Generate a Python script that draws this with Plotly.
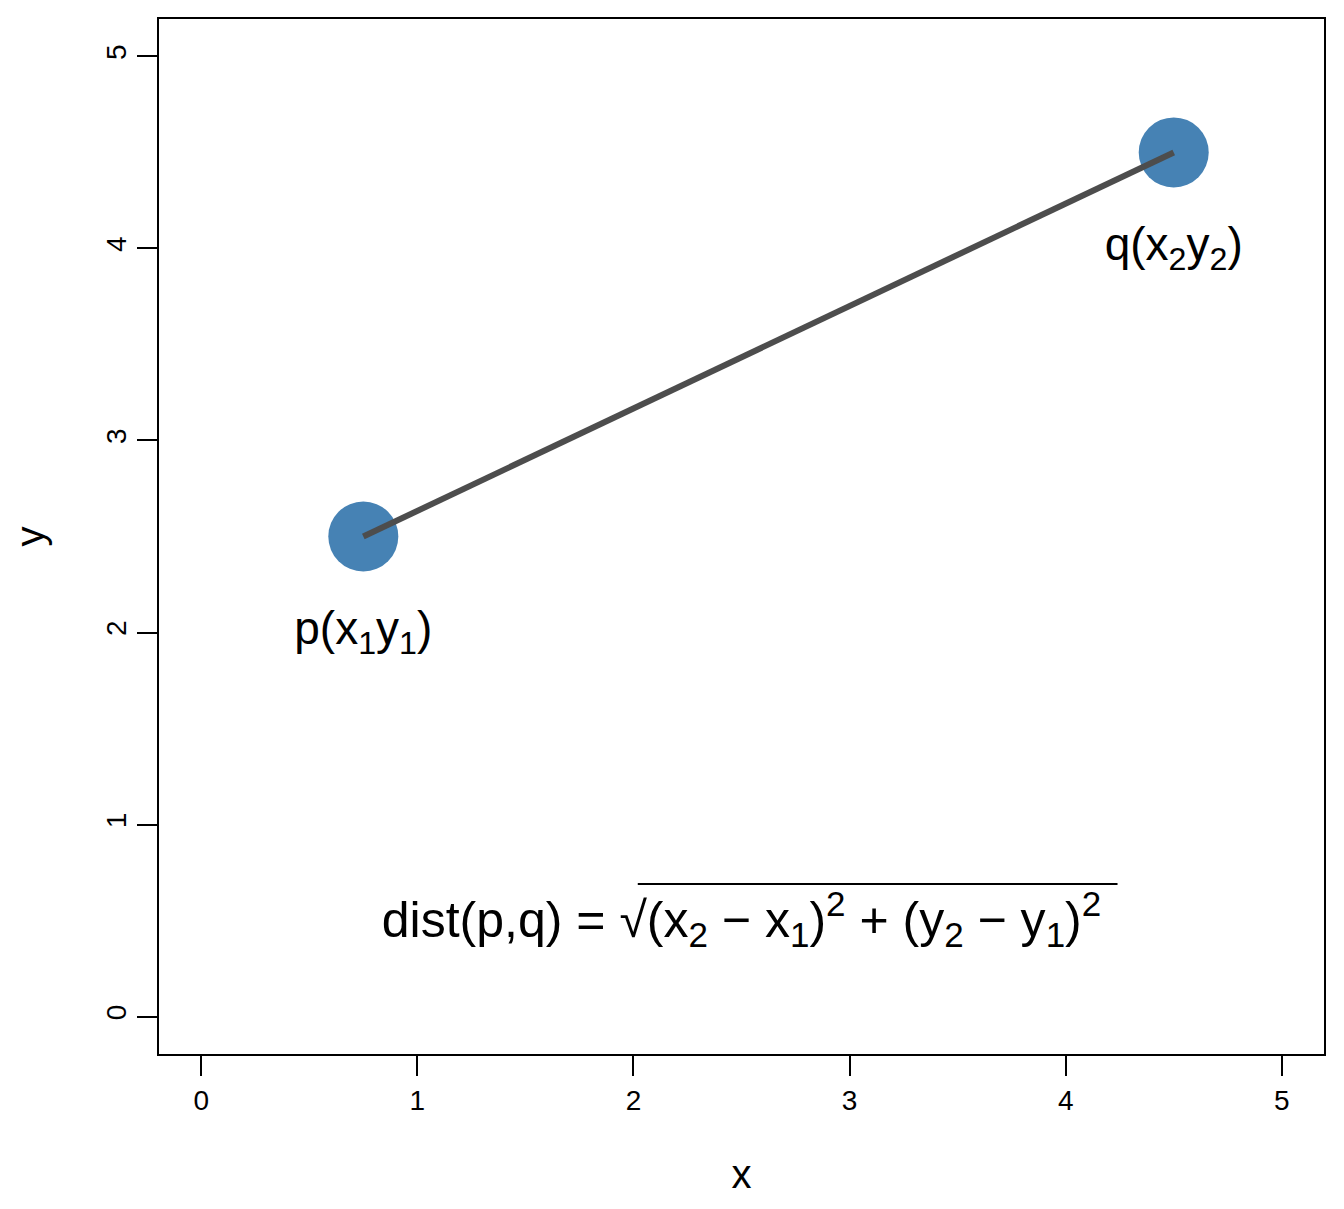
import plotly.graph_objects as go

px_ = [0.75, 4.5]
py_ = [2.5, 4.5]
labels = ["p(x<sub>1</sub>y<sub>1</sub>)", "q(x<sub>2</sub>y<sub>2</sub>)"]
label_x = [0.75, 4.5]
label_y = [2.0, 4.0]
formula = "dist(p,q) = √(x<sub>2</sub> − x<sub>1</sub>)<sup>2</sup> + (y<sub>2</sub> − y<sub>1</sub>)<sup>2</sup>"
ticks = [0, 1, 2, 3, 4, 5]

F = "Liberation Sans, Arial, sans-serif"
fig = go.Figure()
fig.add_trace(go.Scatter(x=px_, y=py_, mode="markers",
                         marker=dict(size=70, color="#4682B4"), showlegend=False))
fig.add_trace(go.Scatter(x=px_, y=py_, mode="lines",
                         line=dict(color="#4d4d4d", width=6), showlegend=False))
fig.add_trace(go.Scatter(x=label_x, y=label_y, mode="text", text=labels,
                         textfont=dict(size=46, color="black", family=F), showlegend=False))
fig.add_trace(go.Scatter(x=[2.5], y=[0.48], mode="text", text=[formula],
                         textfont=dict(size=50, color="black", family=F), showlegend=False))
fig.add_shape(type="line", x0=2.02, x1=4.24, y0=0.69, y1=0.69, line=dict(color="black", width=2))
fig.add_shape(type="rect", xref="paper", yref="paper", x0=0, x1=1, y0=0, y1=1,
              line=dict(color="black", width=2))
ax = dict(range=[-0.2, 5.2], tickvals=ticks, ticks="outside", ticklen=20, tickwidth=2,
          tickcolor="black", showgrid=False, zeroline=False, showline=False,
          tickfont=dict(size=28, family=F, color="black"))
fig.update_xaxes(**ax, title=dict(text="x", font=dict(size=40, family=F, color="black"), standoff=45))
fig.update_yaxes(**ax, tickangle=-90, title=dict(text="y", font=dict(size=40, family=F, color="black"), standoff=55))
fig.update_layout(width=1344, height=1209, plot_bgcolor="white", paper_bgcolor="white",
                  margin=dict(l=145, r=27, t=10, b=162))
fig.write_html("out.html")
